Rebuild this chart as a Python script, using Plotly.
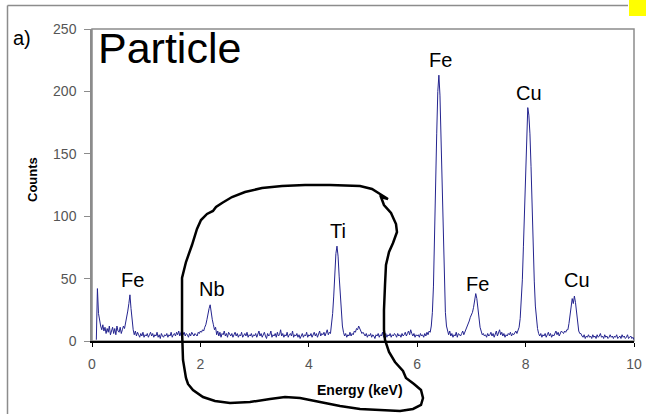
import numpy as np
import plotly.graph_objects as go

# ---------------- data ----------------
energy_start, energy_stop, energy_step = 0.08, 10.00, 0.02

counts_0_1 = [1, 42, 22, 15, 12, 9, 13, 8, 11, 6, 10, 7, 12, 5, 9, 11, 6, 10, 5, 12,
              8, 7, 11, 6, 9, 12, 10, 14, 18, 24, 30, 37, 26, 16, 9, 5, 8, 4, 7, 5,
              3, 6, 4, 7, 3, 5, 4]
counts_1_2 = [6, 3, 5, 7, 4, 6, 3, 5, 4, 7, 3, 5, 2, 6, 4, 3, 5, 4, 6, 3,
              5, 4, 7, 3, 5, 6, 4, 7, 5, 8, 4, 6, 9, 5, 7, 4, 6, 5, 3, 6,
              4, 7, 5, 4, 6, 5, 4, 7, 6, 8]
counts_2_3 = [7, 9, 8, 11, 13, 17, 23, 26, 29, 22, 17, 13, 9, 11, 5, 8, 4, 7, 3, 6,
              5, 8, 4, 6, 3, 7, 5, 4, 6, 3, 5, 7, 4, 6, 3, 5, 4, 7, 3, 5,
              6, 4, 7, 3, 5, 4, 6, 3, 5, 4]
counts_3_4 = [6, 3, 5, 8, 4, 6, 3, 5, 7, 4, 2, 6, 4, 5, 8, 3, 5, 4, 6, 3,
              7, 4, 5, 9, 4, 6, 3, 5, 4, 7, 3, 5, 6, 4, 8, 3, 5, 4, 6, 3,
              5, 2, 4, 6, 3, 5, 4, 7, 3, 5]
counts_4_5 = [4, 6, 3, 5, 7, 4, 6, 3, 5, 8, 4, 6, 5, 7, 4, 6, 9, 5, 7, 6,
              12, 22, 36, 54, 70, 76, 68, 52, 36, 22, 12, 7, 4, 6, 3, 5, 4, 7, 4, 6,
              5, 8, 7, 10, 9, 12, 10, 8, 6, 7]
counts_5_6 = [5, 4, 6, 3, 5, 4, 6, 3, 5, 4, 2, 5, 4, 6, 3, 5, 4, 7, 3, 4,
              6, 3, 5, 4, 6, 3, 5, 4, 6, 5, 3, 6, 4, 5, 3, 6, 4, 5, 7, 4,
              6, 8, 5, 9, 6, 4, 6, 3, 5, 4]
counts_6_7 = [5, 3, 6, 4, 5, 3, 6, 4, 7, 5, 8, 7, 12, 23, 44, 77, 120, 166, 200, 213,
              197, 162, 118, 76, 44, 23, 12, 7, 5, 8, 4, 6, 3, 5, 4, 7, 3, 6, 5, 4,
              6, 8, 5, 7, 9, 11, 14, 16, 19, 21]
counts_7_8 = [23, 27, 33, 38, 34, 25, 17, 11, 8, 5, 6, 4, 5, 3, 6, 4, 5, 7, 4, 6,
              3, 5, 8, 4, 6, 9, 5, 7, 4, 6, 3, 5, 4, 6, 5, 7, 4, 6, 5, 7,
              8, 6, 9, 11, 18, 30, 49, 76, 109, 143]
counts_8_9 = [171, 187, 181, 166, 140, 106, 74, 48, 28, 16, 10, 6, 4, 6, 3, 5, 4, 6, 3, 5,
              7, 4, 6, 3, 5, 4, 6, 8, 5, 7, 4, 6, 8, 7, 6, 8, 7, 9, 9, 14,
              20, 27, 34, 30, 36, 31, 22, 14, 8, 6]
counts_9_10 = [6, 4, 3, 5, 2, 4, 3, 5, 3, 4, 2, 5, 3, 4, 2, 5, 3, 4, 6, 3,
               4, 2, 5, 3, 4, 2, 3, 5, 3, 4, 2, 4, 3, 5, 2, 3, 4, 2, 5, 3,
               4, 2, 3, 5, 2, 3, 4, 2, 3, 1]

counts = (counts_0_1 + counts_1_2 + counts_2_3 + counts_3_4 + counts_4_5 +
          counts_5_6 + counts_6_7 + counts_7_8 + counts_8_9 + counts_9_10)
n = len(counts)
energy = np.round(energy_start + energy_step * np.arange(n), 2)

peak_labels = ["Fe", "Nb", "Ti", "Fe", "Fe", "Cu", "Cu"]
peak_label_x = [0.75, 2.22, 4.53, 6.43, 7.11, 8.07, 8.94]
peak_label_y = [49, 42, 88, 225, 46, 199, 49]

x_ticks = [0, 2, 4, 6, 8, 10]
y_ticks = [0, 50, 100, 150, 200, 250]

# ---------------- layout helpers ----------------
W, H = 646, 414
ML, MR, MT, MB = 92, 12, 29, 73
PW, PH = W - ML - MR, H - MT - MB


def px2paper(px, py):
    return (px - ML) / PW, (H - MB - py) / PH


FONT = "Arial, Liberation Sans, sans-serif"

fig = go.Figure()
fig.add_trace(go.Scatter(x=energy, y=counts, mode="lines",
                         line=dict(color="#24248f", width=1),
                         showlegend=False, hoverinfo="skip"))

annotations = []
for t, x, y in zip(peak_labels, peak_label_x, peak_label_y):
    annotations.append(dict(x=x, y=y, xref="x", yref="y", text=t, showarrow=False,
                            font=dict(family=FONT, size=20, color="black")))

ax, ay = px2paper(11, 38)
annotations.append(dict(x=ax, y=ay, xref="paper", yref="paper", text="a)", showarrow=False,
                        xanchor="left", yanchor="middle",
                        font=dict(family=FONT, size=20, color="black")))
ax, ay = px2paper(96, 48)
annotations.append(dict(x=ax, y=ay, xref="paper", yref="paper", text="Particle", showarrow=False,
                        xanchor="left", yanchor="middle",
                        font=dict(family=FONT, size=43, color="black")))
ax, ay = px2paper(33, 180)
annotations.append(dict(x=ax, y=ay, xref="paper", yref="paper", text="<b>Counts</b>", showarrow=False,
                        textangle=-90, xanchor="center", yanchor="middle",
                        font=dict(family=FONT, size=13, color="black")))
ax, ay = px2paper(360, 390)
annotations.append(dict(x=ax, y=ay, xref="paper", yref="paper", text="<b>Energy (keV)</b>", showarrow=False,
                        xanchor="center", yanchor="middle",
                        font=dict(family=FONT, size=14, color="black")))

# hand-drawn loop (pixel positions of the pen stroke)
loop_px = [(186, 378), (183, 360), (182, 330), (182, 300), (182, 278), (186, 262), (192, 245),
           (197, 229), (201, 220), (207, 214), (213, 211), (216, 207), (222, 203), (232, 197),
           (245, 192), (262, 188), (282, 186), (305, 185), (330, 185), (360, 186), (372, 189),
           (380, 194), (388, 199), (381, 197), (384, 205), (391, 213), (396, 224), (397, 232),
           (393, 243), (389, 252), (386, 265), (385, 285), (384, 310), (384, 330), (385, 340),
           (389, 352), (395, 362), (403, 371), (406, 378), (414, 384), (421, 390), (423, 398),
           (421, 405), (413, 409), (400, 411), (380, 410), (360, 409), (340, 406), (320, 402),
           (300, 398), (285, 397), (270, 399), (250, 402), (230, 403), (215, 401), (203, 397),
           (193, 390), (188, 384), (186, 378)]
pts = [px2paper(a, b) for a, b in loop_px]
path = "M " + " L ".join(f"{a:.4f},{b:.4f}" for a, b in pts)

fx0, fy_top = px2paper(7.5, 5.5)
fx1, fy_bot = px2paper(628, 414)
yx0, yy0 = px2paper(629, 16)
yx1, yy1 = px2paper(646, 0)

shapes = [
    # plot frame (gray)
    dict(type="rect", xref="paper", yref="paper", x0=0, x1=1, y0=0, y1=1,
         line=dict(color="#8c8c8c", width=1.5), layer="below"),
    # outer figure frame: top and left edges
    dict(type="line", xref="paper", yref="paper", x0=fx0, x1=fx1, y0=fy_top, y1=fy_top,
         line=dict(color="#8c8c8c", width=1.5), layer="below"),
    dict(type="line", xref="paper", yref="paper", x0=fx0, x1=fx0, y0=fy_top, y1=fy_bot,
         line=dict(color="#8c8c8c", width=1.5), layer="below"),
    # yellow marker
    dict(type="rect", xref="paper", yref="paper", x0=yx0, x1=yx1, y0=yy0, y1=yy1,
         line=dict(width=0), fillcolor="#ffff00", layer="above"),
    dict(type="path", xref="paper", yref="paper", path=path,
         line=dict(color="black", width=2.5), layer="above"),
]

fig.update_layout(
    width=W, height=H, autosize=False,
    margin=dict(l=ML, r=MR, t=MT, b=MB, pad=0),
    paper_bgcolor="white", plot_bgcolor="white",
    showlegend=False,
    annotations=annotations,
    shapes=shapes,
    xaxis=dict(range=[0, 10], tickvals=x_ticks, ticktext=[str(v) for v in x_ticks],
               showgrid=False, zeroline=False, showline=True, linecolor="black", linewidth=1.5,
               ticks="outside", ticklen=4, tickcolor="black", tickwidth=1, ticklabelstandoff=5,
               ticklabeloverflow="allow", automargin=False,
               tickfont=dict(family=FONT, size=14, color="#555555")),
    yaxis=dict(range=[0, 250], tickvals=y_ticks, ticktext=[str(v) for v in y_ticks],
               showgrid=False, zeroline=False, showline=True, linecolor="#8c8c8c", linewidth=1.5,
               ticks="outside", ticklen=6, tickcolor="#8c8c8c", tickwidth=1, ticklabelstandoff=5,
               ticklabeloverflow="allow", automargin=False,
               tickfont=dict(family=FONT, size=14, color="#555555")),
)

fig.write_html("out.html", config={"responsive": False})
